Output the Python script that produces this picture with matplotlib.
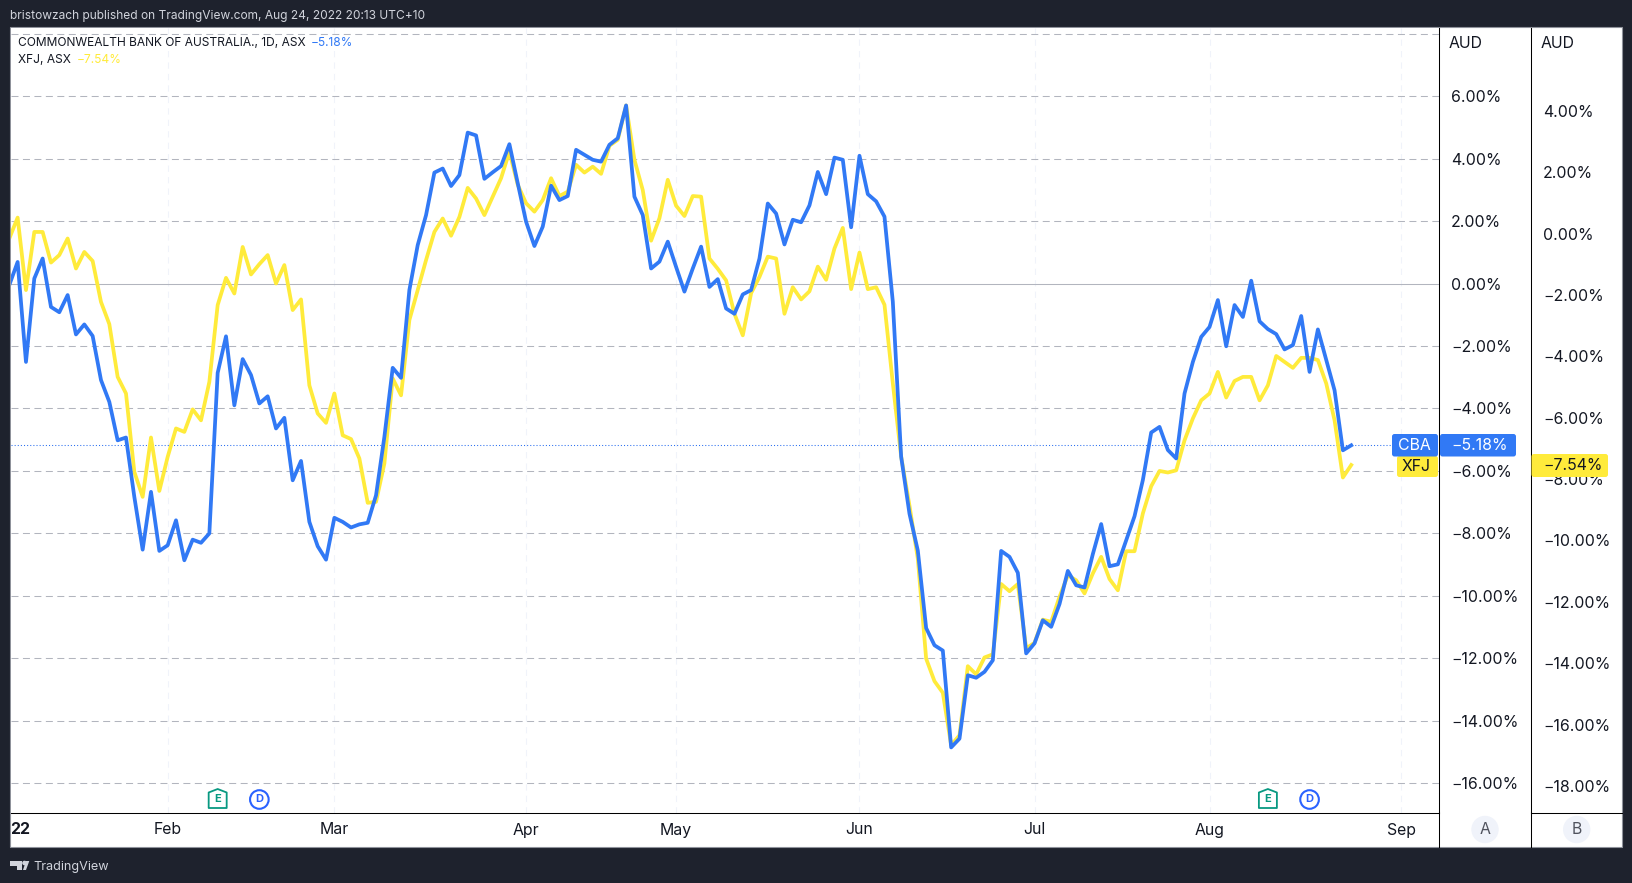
import matplotlib
matplotlib.use("Agg")
import matplotlib.pyplot as plt
from matplotlib.patches import Rectangle, Circle, FancyBboxPatch, Polygon

plt.rcParams['font.family'] = ['Inter', 'DejaVu Sans']

W, H = 1633, 883

cba = [-0.05, 0.69, -2.51, 0.16, 0.80, -0.75, -0.92, -0.37, -1.63, -1.31,
       -1.68, -3.09, -3.79, -5.02, -4.93, -6.83, -8.52, -6.67, -8.56, -8.38,
       -7.58, -8.86, -8.20, -8.30, -8.00, -2.86, -1.69, -3.90, -2.42, -2.93,
       -3.84, -3.61, -4.64, -4.30, -6.30, -5.68, -7.63, -8.41, -8.84, -7.50,
       -7.63, -7.81, -7.71, -7.66, -6.78, -4.91, -2.70, -3.02, -0.21, 1.23,
       2.19, 3.55, 3.68, 3.12, 3.47, 4.83, 4.74, 3.35, 3.56, 3.76,
       4.46, 3.21, 1.98, 1.20, 1.82, 3.13, 2.67, 2.80, 4.28, 4.12,
       3.96, 3.90, 4.44, 4.65, 5.70, 2.78, 2.19, 0.48, 0.70, 1.34,
       0.53, -0.26, 0.48, 1.18, -0.11, 0.14, -0.80, -0.97, -0.35, -0.21,
       0.80, 2.56, 2.24, 1.25, 2.04, 1.96, 2.50, 3.57, 2.86, 4.03,
       3.96, 1.80, 4.09, 2.86, 2.63, 2.14, -0.58, -5.54, -7.37, -8.55,
       -11.03, -11.58, -11.75, -14.85, -14.57, -12.54, -12.62, -12.43, -12.06, -8.56,
       -8.75, -9.26, -11.84, -11.52, -10.78, -10.99, -10.26, -9.20, -9.66, -9.73,
       -8.66, -7.70, -9.05, -8.99, -8.22, -7.45, -6.29, -4.77, -4.59, -5.33,
       -5.60, -3.52, -2.51, -1.71, -1.39, -0.53, -2.01, -0.69, -1.07, 0.09,
       -1.21, -1.46, -1.62, -2.11, -1.97, -1.04, -2.83, -1.47, -2.45, -3.42,
       -5.34, -5.18]
xfj = [1.44, 2.11, -0.21, 1.65, 1.65, 0.67, 0.91, 1.44, 0.48, 1.01,
       0.72, -0.59, -1.30, -2.99, -3.52, -6.03, -6.83, -4.93, -6.64, -5.55,
       -4.64, -4.75, -4.03, -4.38, -3.15, -0.69, 0.18, -0.32, 1.17, 0.29,
       0.62, 0.91, 0.00, 0.59, -0.85, -0.51, -3.26, -4.16, -4.46, -3.52,
       -4.86, -4.98, -5.60, -7.02, -6.99, -5.76, -3.04, -3.58, -1.17, -0.21,
       0.75, 1.65, 2.08, 1.53, 2.13, 3.06, 2.72, 2.19, 2.78, 3.37,
       4.22, 3.16, 2.57, 2.30, 2.67, 3.37, 2.80, 2.94, 3.80, 3.55,
       3.74, 3.51, 4.41, 4.60, 5.70, 3.96, 2.99, 1.37, 2.09, 3.32,
       2.49, 2.16, 2.80, 2.78, 0.80, 0.47, 0.10, -0.97, -1.66, -0.31,
       0.21, 0.86, 0.80, -0.97, -0.12, -0.51, -0.25, 0.54, 0.12, 1.12,
       1.78, -0.18, 0.99, -0.18, -0.12, -0.68, -3.19, -5.54, -7.11, -8.81,
       -12.01, -12.73, -13.10, -14.78, -14.46, -12.25, -12.51, -11.97, -11.87, -9.62,
       -9.85, -9.62, -11.68, -11.50, -10.76, -10.83, -10.03, -9.34, -9.50, -9.92,
       -9.28, -8.75, -9.46, -9.82, -8.57, -8.57, -7.36, -6.49, -6.00, -6.05,
       -5.98, -5.02, -4.32, -3.74, -3.52, -2.83, -3.65, -3.12, -2.99, -2.99,
       -3.74, -3.26, -2.32, -2.51, -2.70, -2.38, -2.38, -2.45, -3.20, -4.38,
       -6.21, -5.81]

month_idx = [19, 39, 62, 80, 102, 123, 144, 167]
month_labels = ['Feb', 'Mar', 'Apr', 'May', 'Jun', 'Jul', 'Aug', 'Sep']
a_ticks = [6, 4, 2, 0, -2, -4, -6, -8, -10, -12, -14, -16]
b_ticks = [4, 2, 0, -2, -4, -6, -8, -10, -12, -14, -16, -18]
grid_levels = [8, 6, 4, 2, -2, -4, -6, -8, -10, -12, -14, -16]
earnings_idx = [25, 151]
dividend_idx = [30, 156]
cba_last, xfj_last_a, xfj_last_b = -5.18, -5.81, -7.54

BLUE, YEL = '#3179f5', '#ffeb3b'
TXT = '#131722'
FS = 11.4
X0, DX = 9.3, 8.335


def pct(v):
    return ('\u2212' if v < 0 else '') + f'{abs(v):.2f}%'


def add_ax(x0, y0, x1, y1):
    return fig.add_axes([x0 / W, 1 - y1 / H, (x1 - x0) / W, (y1 - y0) / H])


fig = plt.figure(figsize=(W / 100, H / 100), dpi=100, facecolor='#1e222d')

# main price pane
L, R, T, B = 10.5, 1439.5, 27.5, 812.5
ax = add_ax(L, T, R, B)
ax.set_xlim((L - X0) / DX, (R - X0) / DX)
ax.set_ylim((283.5 - B) / 31.24, (283.5 - T) / 31.24)
ax.set_facecolor('white')
for s in ax.spines.values():
    s.set_visible(False)
for side in ('right', 'bottom'):
    ax.spines[side].set_visible(True)
    ax.spines[side].set_color('black')
    ax.spines[side].set_linewidth(0.75)

for m in month_idx:
    ax.axvline(m, color='#f0f3fa', lw=0.75, ls=(0, (6, 5)), zorder=1)
for g in grid_levels:
    ax.axhline(g, color='#b2b5be', lw=0.75, ls=(0, (6.7, 4.3)), zorder=1)
ax.axhline(0, color='#b2b5be', lw=0.75, zorder=1)
ax.plot([ax.get_xlim()[0], (1392 - X0) / DX], [cba_last, cba_last], color='#2a6ff0',
        lw=0.75, ls=(0, (1, 2)), zorder=1.5)

idx = list(range(len(cba)))
ax.plot(idx, xfj, color=YEL, lw=2.7, zorder=3)
ax.plot(idx, cba, color=BLUE, lw=2.7, zorder=4)

ax.yaxis.tick_right()
ax.set_yticks(a_ticks)
ax.set_yticklabels([pct(v) for v in a_ticks], fontsize=FS, color=TXT, ha='left')
ax.tick_params(axis='y', length=0, pad=8.2)
ax.set_xticks(month_idx)
ax.set_xticklabels(month_labels, fontsize=FS, color=TXT)
ax.tick_params(axis='x', length=0, pad=7.2)

# second percent scale
axb = add_ax(R, T, 1531.5, B)
axb.patch.set_visible(False)
axb.set_xticks([])
axb.set_ylim(4 - (B - 110.7) / 30.7, 4 + (110.7 - T) / 30.7)
for s in axb.spines.values():
    s.set_visible(False)
axb.spines['right'].set_visible(True)
axb.spines['right'].set_color('black')
axb.spines['right'].set_linewidth(0.75)
axb.yaxis.tick_right()
axb.set_yticks(b_ticks)
axb.set_yticklabels([pct(v) for v in b_ticks], fontsize=FS, color=TXT, ha='left')
axb.tick_params(axis='y', length=0, pad=8.2)

# chrome overlay in pixel space
ov = fig.add_axes([0, 0, 1, 1], zorder=10)
ov.set_xlim(0, W)
ov.set_ylim(H, 0)
ov.axis('off')

bg = fig.add_axes([0, 0, 1, 1], zorder=-1)
bg.set_xlim(0, W)
bg.set_ylim(H, 0)
bg.axis('off')
bg.add_patch(Rectangle((10.5, 27), 1611.5, 820, fc='white', ec='#8f929b', lw=0.8))

ov.plot([1439.5, 1439.5], [812, 847], color='black', lw=0.75)
ov.plot([1531.5, 1531.5], [812, 847], color='black', lw=0.75)
ov.plot([1531.5, 1622], [812.5, 812.5], color='black', lw=0.75)


def box(x0, y0, x1, y1, color, z=2):
    ov.add_patch(FancyBboxPatch((x0 + 2, y0 + 2), x1 - x0 - 4, y1 - y0 - 4,
                                boxstyle='round,pad=2,rounding_size=2.5',
                                fc=color, ec='none', zorder=z))


box(1397, 456, 1438, 477, YEL, 2)
ov.text(1416.5, 466.5, 'XFJ', color=TXT, fontsize=FS, ha='center', va='center', zorder=3)
box(1531.5, 454, 1608, 477, YEL, 2)
ov.text(1543, 465.5, pct(xfj_last_b), color=TXT, fontsize=FS, ha='left', va='center', zorder=3)
box(1392, 434, 1438, 456.5, BLUE, 4)
ov.text(1414.5, 445.3, 'CBA', color='white', fontsize=FS, ha='center', va='center', zorder=5)
box(1440, 434, 1516, 456.5, BLUE, 4)
ov.text(1451.5, 445.3, pct(cba_last), color='white', fontsize=FS, ha='left', va='center', zorder=5)

ov.text(1448.5, 43, 'AUD', color=TXT, fontsize=FS, ha='left', va='center')
ov.text(1540.5, 43, 'AUD', color=TXT, fontsize=FS, ha='left', va='center')

ov.text(10.5, 829, '22', color=TXT, fontsize=FS, fontweight='bold', ha='left', va='center')

for cx, t in [(1485, 'A'), (1576.7, 'B')]:
    ov.add_patch(Circle((cx, 829.5), 13.7, fc='#f0f3fa', ec='none'))
    ov.text(cx, 829.5, t, color='#50535e', fontsize=FS, ha='center', va='center')

# legend
LF = 8.6
ov.text(18, 42.5, 'COMMONWEALTH BANK OF AUSTRALIA., 1D, ASX', color=TXT, fontsize=LF, ha='left', va='center')
ov.text(311, 42.5, pct(cba_last), color=BLUE, fontsize=LF, ha='left', va='center')
ov.text(18, 60, 'XFJ, ASX', color=TXT, fontsize=LF, ha='left', va='center')
ov.text(76.5, 60, pct(xfj_last_b), color=YEL, fontsize=LF, ha='left', va='center')

# header and footer
ov.text(10.5, 15.7, 'bristowzach published on TradingView.com, Aug 24, 2022 20:13 UTC+10',
        color='#d1d4dc', fontsize=8.6, ha='left', va='center')
ov.text(33.5, 866.7, 'TradingView', color='#d1d4dc', fontsize=9.1, ha='left', va='center')
ov.add_patch(Polygon([(10, 861), (22, 861), (22, 870), (17, 870), (17, 865.5), (10, 865.5)],
                     fc='#d1d4dc', ec='none'))
ov.add_patch(Circle((24.5, 863), 2.3, fc='#d1d4dc', ec='none'))
ov.add_patch(Polygon([(23, 870), (26, 870), (29.3, 861), (26, 861)], fc='#d1d4dc', ec='none'))


def px(i):
    return ax.transData.transform((i, 0))[0]


for i in earnings_idx:
    x = px(i)
    ov.add_patch(Polygon([(x - 9, 792.5), (x, 789), (x + 9, 792.5), (x + 9, 808), (x - 9, 808)],
                         closed=True, fc='white', ec='#089981', lw=1.3, joinstyle='round'))
    ov.text(x, 799.5, 'E', color='#089981', fontsize=8, fontweight='bold', ha='center', va='center')
for i in dividend_idx:
    x = px(i)
    ov.add_patch(Circle((x, 799.5), 9.3, fc='white', ec='#2962ff', lw=1.5))
    ov.text(x, 799.5, 'D', color='#2962ff', fontsize=8, fontweight='bold', ha='center', va='center')

fig.savefig('out.png', dpi=100, facecolor=fig.get_facecolor())
